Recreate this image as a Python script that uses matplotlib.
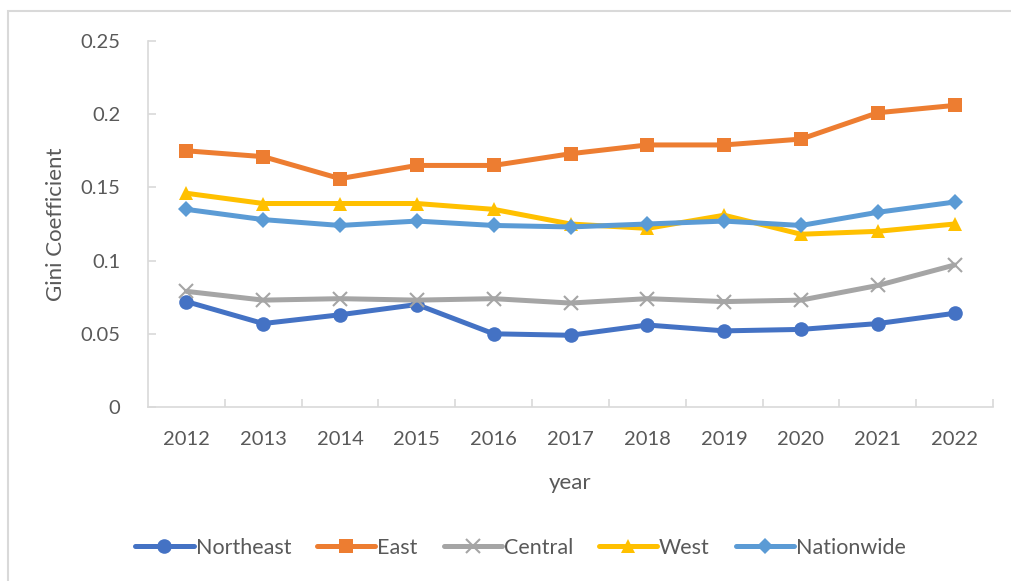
import matplotlib
matplotlib.use("Agg")
import matplotlib.pyplot as plt
from matplotlib.patches import Rectangle

years = ["2012", "2013", "2014", "2015", "2016", "2017", "2018", "2019", "2020", "2021", "2022"]
northeast = [0.072, 0.057, 0.063, 0.070, 0.050, 0.049, 0.056, 0.052, 0.053, 0.057, 0.064]
east = [0.175, 0.171, 0.156, 0.165, 0.165, 0.173, 0.179, 0.179, 0.183, 0.201, 0.206]
central = [0.079, 0.073, 0.074, 0.073, 0.074, 0.071, 0.074, 0.072, 0.073, 0.083, 0.097]
west = [0.146, 0.139, 0.139, 0.139, 0.135, 0.125, 0.122, 0.131, 0.118, 0.120, 0.125]
nationwide = [0.135, 0.128, 0.124, 0.127, 0.124, 0.123, 0.125, 0.127, 0.124, 0.133, 0.140]
y_ticks = [0, 0.05, 0.1, 0.15, 0.2, 0.25]
y_tick_labels = ["0", "0.05", "0.1", "0.15", "0.2", "0.25"]

plt.rcParams['font.family'] = ['Lato', 'DejaVu Sans']
txt = '#595959'

fig = plt.figure(figsize=(10.11, 5.81), dpi=100)
fig.patches.append(Rectangle((8/1011, -0.1), 1.2, (581-11)/581 + 0.1, transform=fig.transFigure,
                             fill=False, edgecolor='#d9d9d9', linewidth=1.5))
ax = fig.add_axes([148/1011, 1-407/581, (993-148)/1011, (407-41)/581])

x = list(range(len(years)))
series = [
    ("Northeast", northeast, '#4472C4', 'o', 10.5),
    ("East", east, '#ED7D31', 's', 10.5),
    ("Central", central, '#A5A5A5', 'x', 10),
    ("West", west, '#FFC000', '^', 10.5),
    ("Nationwide", nationwide, '#5B9BD5', 'D', 8.5),
]
for name, vals, c, m, ms in series:
    kw = dict(markeredgewidth=1.5) if m == 'x' else dict(markeredgewidth=0)
    ax.plot(x, vals, color=c, lw=3.6, marker=m, markersize=ms, label=name,
            markerfacecolor=c, markeredgecolor=c, solid_capstyle='round', **kw)

ax.set_xlim(-0.5, len(years) - 0.5)
ax.set_ylim(0, 0.25)
ax.set_yticks(y_ticks)
ax.set_yticklabels(y_tick_labels)
ax.set_xticks(x)
ax.set_xticklabels(years)
ax.set_xticks([i - 0.5 for i in range(1, len(years) + 1)], minor=True)
ax.tick_params(axis='x', which='major', length=0, pad=17, labelsize=14.5, labelcolor=txt)
ax.tick_params(axis='x', which='minor', length=6, direction='in', color='#d9d9d9', width=1.2)
ax.tick_params(axis='y', length=6, direction='in', color='#d9d9d9', width=1.2, pad=20,
               labelsize=14.5, labelcolor=txt)
for s in ['top', 'right']:
    ax.spines[s].set_visible(False)
for s in ['left', 'bottom']:
    ax.spines[s].set_color('#d9d9d9')
    ax.spines[s].set_linewidth(1.2)

ax.set_xlabel("year", fontsize=16, color=txt, labelpad=18)
ax.set_ylabel("Gini Coefficient", fontsize=16, color=txt, labelpad=10)

leg = fig.legend(loc='center', bbox_to_anchor=(0.515, 1-548/581), ncol=5, frameon=False,
                 fontsize=15.5, handlelength=2.7, columnspacing=1.2, handletextpad=0.1)
for t in leg.get_texts():
    t.set_color(txt)

fig.savefig("out.png", dpi=100)
